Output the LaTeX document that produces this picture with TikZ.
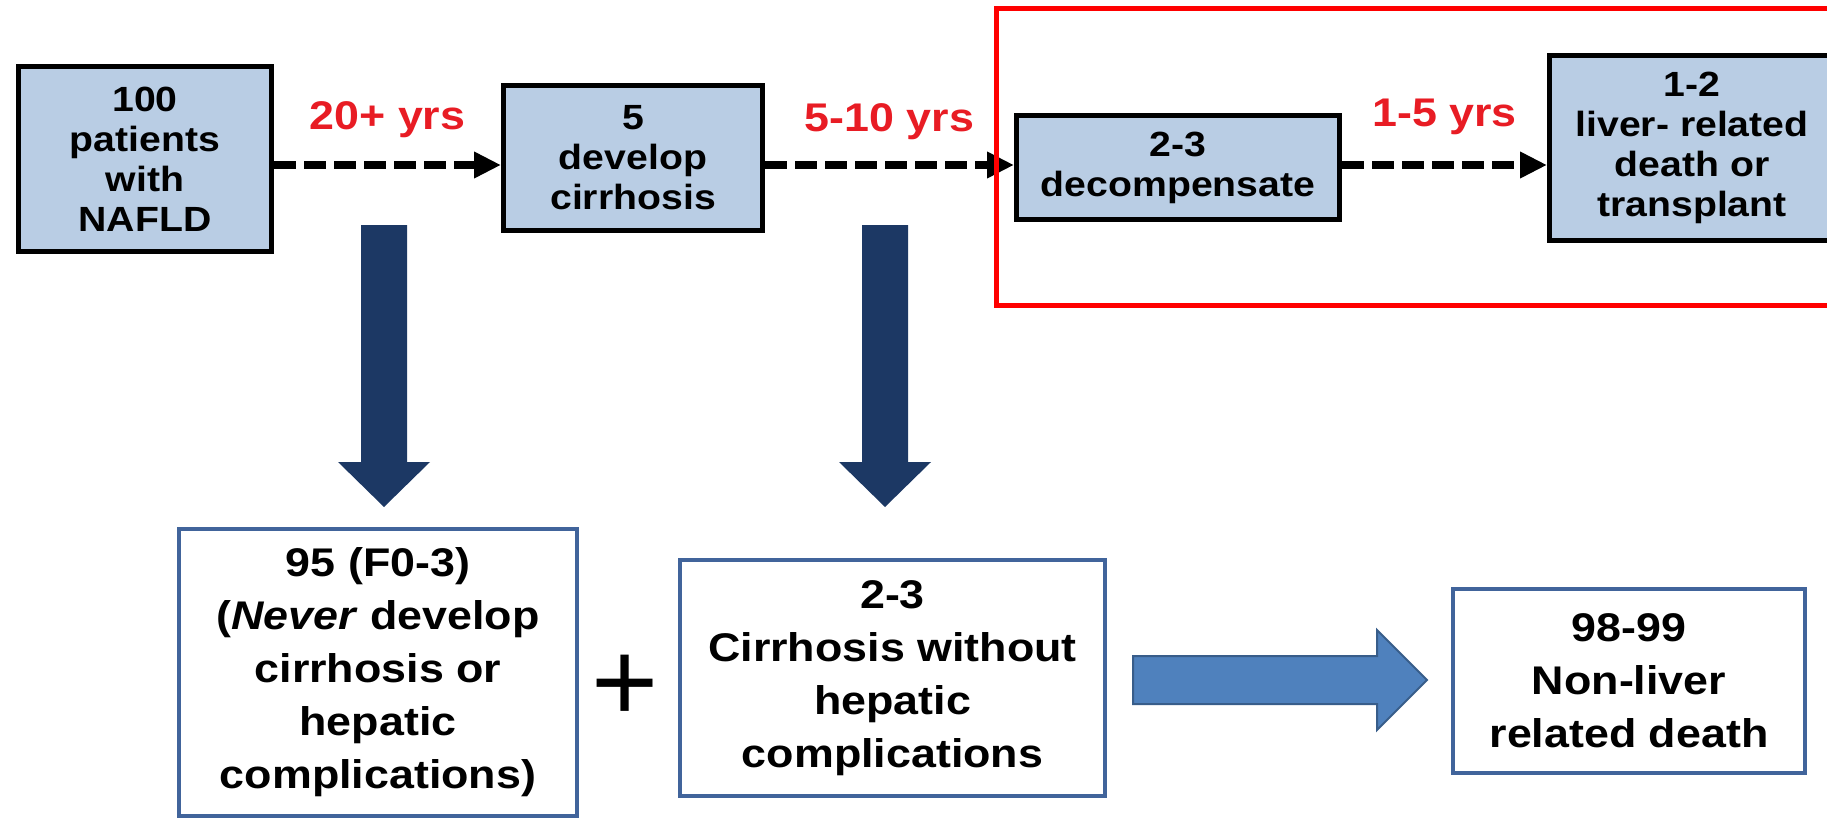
\documentclass[tikz,border=0pt]{standalone}
\usepackage{fontspec}
\setmainfont{Liberation Sans}
\newfontfamily\arialx[FakeStretch=1.12]{Liberation Sans}
\usetikzlibrary{arrows.meta}
\definecolor{boxblue}{RGB}{185,205,228}
\definecolor{navyarrow}{RGB}{28,56,100}
\definecolor{steel}{RGB}{65,100,155}
\definecolor{arrowblue}{RGB}{79,129,189}
\definecolor{arrowedge}{RGB}{56,93,138}
\definecolor{labelred}{RGB}{232,28,36}
\definecolor{hilite}{RGB}{255,0,0}
\begin{document}
\begin{tikzpicture}[x=1pt,y=-1pt,
  topbox/.style={draw=black, line width=5pt, fill=boxblue, inner sep=0pt, align=center,
    font=\arialx\bfseries\fontsize{35}{40}\selectfont},
  botbox/.style={draw=steel, line width=4pt, fill=white, inner sep=0pt, align=center,
    font=\arialx\bfseries\fontsize{40}{53}\selectfont},
  dasharrow/.style={draw=black, line width=8.5pt, dash pattern=on 22pt off 8pt,
    -{Triangle[length=27pt,width=25pt]}},
  yrs/.style={text=labelred, font=\arialx\bfseries\fontsize{40}{40}\selectfont, inner sep=0pt},
  downarrow/.style={fill=navyarrow},
  rightarrow/.style={fill=arrowblue, draw=arrowedge, line width=2pt},
  plussign/.style={inner sep=0pt, font=\fontsize{115}{115}\selectfont}
]
\useasboundingbox (0,0) rectangle (1827,821);
\fill[white] (0,0) rectangle (1827,821);
\clip (0,0) rectangle (1827,821);

% top row
\node[topbox, minimum width=253pt, minimum height=185pt] (b1) at (145,159)
  {100\\patients\\with\\NAFLD};
\node[topbox, minimum width=259pt, minimum height=145pt] (b2) at (633,158)
  {5\\develop\\cirrhosis};
\node[topbox, minimum width=323pt, minimum height=104pt] (b3) at (1178,167.5)
  {2-3\\decompensate};
\node[topbox, minimum width=285pt, minimum height=185pt] (b4) at (1692,148)
  {1-2\\liver- related\\death or\\transplant};

\coordinate (ar) at (0,165);
\draw[dasharrow] (b1.east |- ar) -- node[yrs, midway, yshift=45pt] (l1) {20+ yrs} (b2.west |- ar);
\draw[dasharrow] (b2.east |- ar) -- node[yrs, midway, yshift=43pt] (l2) {5-10 yrs} (b3.west |- ar);
\draw[dasharrow] (b3.east |- ar) -- node[yrs, midway, yshift=48pt] (l3) {1-5 yrs} (b4.west |- ar);

% highlight rectangle
\draw[hilite, line width=5pt] (996,8.5) rectangle (1860,305.5);

% bottom row
\node[botbox, minimum width=398pt, minimum height=287pt] (b5) at (378,672.5)
  {95 (F0-3)\\(\textit{Never} develop\\cirrhosis or\\hepatic\\complications)};
\node[botbox, minimum width=425pt, minimum height=236pt] (b6) at (892.5,678)
  {2-3\\Cirrhosis without\\hepatic\\complications};
\node[botbox, minimum width=352pt, minimum height=184pt] (b7) at (1629,681)
  {98-99\\Non-liver\\related death};
\node[plussign] (plus) at (625,688.5) {+};

% block arrows
\coordinate (d1) at (384,225);
\coordinate (d2) at (885,225);
\foreach \c in {d1,d2}
  \fill[downarrow] (\c) ++(-23,0) -- ++(46,0) -- ++(0,237) -- ++(23,0)
    -- ++(-46,45) -- ++(-46,-45) -- ++(23,0) -- cycle;

\coordinate (r1) at (1133,680.5);
\path[rightarrow] (r1) ++(0,-24.5) -- ++(244,0) -- ++(0,-26) -- ++(50,50)
  -- ++(-50,50) -- ++(0,-26) -- ++(-244,0) -- cycle;
\end{tikzpicture}
\end{document}
